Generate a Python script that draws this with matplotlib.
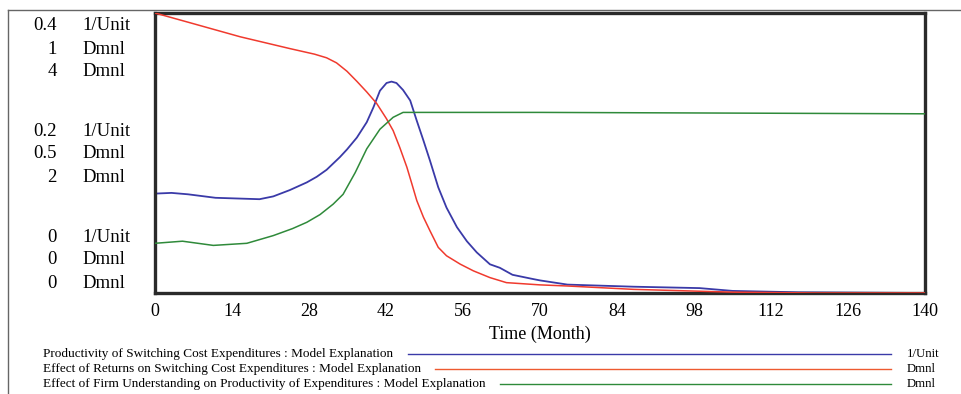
import matplotlib
matplotlib.use("Agg")
import matplotlib.pyplot as plt
from matplotlib.lines import Line2D

# ---------------- data ----------------
time_ticks = [0, 14, 28, 42, 56, 70, 84, 98, 112, 126, 140]

# Productivity of Switching Cost Expenditures (1/Unit, axis 0..0.4)
t_prod = [0, 3, 6, 11, 19, 21.5, 24.5, 27.6, 29.4, 31.2, 33.6, 34.9, 36.7, 38.5, 39.7,
          40.9, 42.1, 43.0, 43.9, 45.1, 46.4, 47.6, 48.8, 50, 51.5, 53, 54.9, 56.7, 58.5,
          60.9, 62.7, 65, 68.7, 70, 75, 87, 99, 105, 117, 140]
prod = [0.142, 0.143, 0.141, 0.136, 0.134, 0.138, 0.147, 0.158, 0.166, 0.176, 0.194, 0.205,
        0.222, 0.244, 0.265, 0.289, 0.300, 0.302, 0.300, 0.290, 0.275, 0.246, 0.218, 0.189,
        0.151, 0.122, 0.094, 0.074, 0.058, 0.041, 0.036, 0.026, 0.020, 0.018, 0.012, 0.009,
        0.007, 0.003, 0.001, 0.0]

# Effect of Returns on Switching Cost Expenditures (Dmnl, axis 0..1)
t_ret = [0, 6.4, 15.5, 24.5, 29, 31.2, 33, 34.9, 36.7, 38.5, 40.3, 42.1, 43.3, 44.5, 45.8,
         46.7, 47.6, 48.8, 50, 51.5, 53, 55.5, 57.9, 60.9, 63.9, 70, 75, 87, 105, 120, 140]
ret = [1.0, 0.965, 0.915, 0.873, 0.853, 0.840, 0.822, 0.792, 0.756, 0.718, 0.677, 0.622,
       0.580, 0.520, 0.449, 0.390, 0.330, 0.271, 0.222, 0.163, 0.133, 0.103, 0.079, 0.055,
       0.037, 0.029, 0.025, 0.013, 0.003, 0.0, 0.0]

# Effect of Firm Understanding on Productivity of Expenditures (Dmnl, axis 0..4)
t_und = [0, 5, 10.6, 16.7, 21.5, 25, 27.6, 30, 32.4, 34.2, 36.4, 38.5, 40.9, 43.3, 45.1, 70, 140]
und = [0.71, 0.74, 0.68, 0.71, 0.82, 0.92, 1.01, 1.12, 1.27, 1.41, 1.72, 2.06, 2.34, 2.51,
       2.58, 2.58, 2.56]

legend_names = [
    "Productivity of Switching Cost Expenditures : Model Explanation",
    "Effect of Returns on Switching Cost Expenditures : Model Explanation",
    "Effect of Firm Understanding on Productivity of Expenditures : Model Explanation",
]
legend_units = ["1/Unit", "Dmnl", "Dmnl"]

scale_values = [["0.4", "1", "4"], ["0.2", "0.5", "2"], ["0", "0", "0"]]
scale_units = ["1/Unit", "Dmnl", "Dmnl"]

# ---------------- styling ----------------
W, H = 961, 394
C_BLUE = "#3a3aa8"
C_RED = "#f03a2e"
C_GREEN = "#2f8a3a"
SERIF = ["Liberation Serif", "DejaVu Serif"]

fig = plt.figure(figsize=(W / 100, H / 100), dpi=100)
fig.patch.set_facecolor("white")


def fx(x):
    return x / W


def fy(y):
    return 1 - y / H


left, right, top, bottom = 155, 925, 13, 293
ax = fig.add_axes([fx(left), fy(bottom), (right - left) / W, (bottom - top) / H])
ax2 = ax.twinx()
ax3 = ax.twinx()

ax.plot(t_prod, prod, color=C_BLUE, lw=1.3, zorder=3)
ax2.plot(t_ret, ret, color=C_RED, lw=1.1, zorder=3)
ax3.plot(t_und, und, color=C_GREEN, lw=1.1, zorder=3)

ax.set_xlim(0, 140)
ax.set_ylim(0, 0.4)
ax2.set_ylim(0, 1)
ax3.set_ylim(0, 4)

ax.set_xticks(time_ticks)
ax.set_xticklabels([str(t) for t in time_ticks], fontfamily=SERIF, fontsize=13)
ax.tick_params(axis="x", length=0, pad=7)
ax.set_yticks([])
for a in (ax2, ax3):
    a.set_yticks([])
    for s in a.spines.values():
        s.set_visible(False)
for s in ax.spines.values():
    s.set_linewidth(2.4)
    s.set_color("#2a2a2a")
    s.set_zorder(5)

ax.set_xlabel("Time (Month)", fontfamily=SERIF, fontsize=13, labelpad=4)

# scale labels on the left
row_y = [[25, 49, 72], [131, 154, 177], [237, 259, 283]]
for g in range(3):
    for r in range(3):
        yy = row_y[g][r]
        fig.text(fx(57), fy(yy), scale_values[g][r], ha="right", va="center",
                 fontfamily=SERIF, fontsize=13.5)
        fig.text(fx(82), fy(yy), scale_units[r], ha="left", va="center",
                 fontfamily=SERIF, fontsize=13.5)

# legend
leg_y = [354, 369, 384]
line_start = [408, 435, 500]
leg_colors = [C_BLUE, "#ee5a30", C_GREEN]
for i in range(3):
    fig.text(fx(43), fy(leg_y[i]), legend_names[i], ha="left", va="center",
             fontfamily=SERIF, fontsize=9.5)
    fig.add_artist(Line2D([fx(line_start[i]), fx(891)], [fy(leg_y[i]), fy(leg_y[i])],
                          transform=fig.transFigure, color=leg_colors[i], lw=1.0))
    fig.text(fx(907), fy(leg_y[i]), legend_units[i], ha="left", va="center",
             fontfamily=SERIF, fontsize=9.2)

# outer border (top and left)
fig.add_artist(Line2D([fx(8), fx(961)], [fy(10), fy(10)], transform=fig.transFigure,
                      color="#666666", lw=1.0))
fig.add_artist(Line2D([fx(8), fx(8)], [fy(10), fy(394)], transform=fig.transFigure,
                      color="#666666", lw=1.0))

fig.savefig("out.png", dpi=100, facecolor="white")
